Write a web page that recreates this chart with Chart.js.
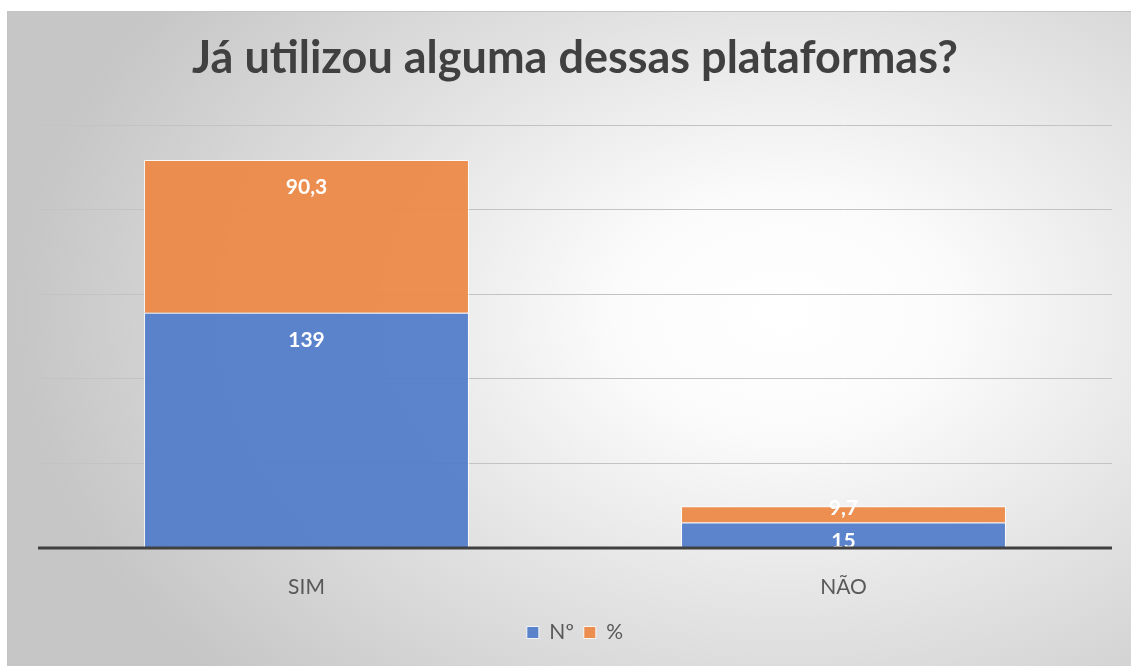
<!DOCTYPE html>
<html>
<head>
<meta charset="utf-8">
<script src="https://cdn.jsdelivr.net/npm/chart.js@4"></script>
<style>
  html, body { margin: 0; padding: 0; background: #fff; overflow: hidden; }
  #wrap {
    position: absolute; left: 7px; top: 11px; width: 1124px; height: 655px;
    border-top: 1px solid #c4c4c4; border-left: 1px solid #c4c4c4; box-sizing: border-box;
    background: radial-gradient(ellipse 68% 82% at 69% 46%, #ffffff 0%, #fbfbfb 22%, #e2e2e2 58%, #c6c6c6 100%);
  }
</style>
</head>
<body>
<div id="wrap"><canvas id="chart"></canvas></div>
<script>
  // Dados
  const categories = ['SIM', 'NÃO'];
  const seriesNames = ['Nº', '%'];
  const countValues = [139, 15];
  const percentValues = [90.3, 9.7];
  const yTicks = [0, 50, 100, 150, 200, 250];

  const fontFamily = 'Lato, "Open Sans", sans-serif';
  const fmt = v => v.toLocaleString('pt-BR');

  // Rótulos brancos dentro das barras
  const barLabels = {
    id: 'barLabels',
    afterDatasetsDraw(chart) {
      const c2d = chart.ctx;
      c2d.save();
      c2d.font = 'bold 21px ' + fontFamily;
      c2d.fillStyle = '#ffffff';
      c2d.textAlign = 'center';
      c2d.textBaseline = 'middle';
      categories.forEach((c, i) => {
        let limit = Infinity;
        chart.data.datasets.forEach((ds, d) => {
          const bar = chart.getDatasetMeta(d).data[i];
          const h = bar.base - bar.y;
          let y = bar.y + Math.min(27, h - 6);
          y = Math.min(y, limit);
          limit = y - 33;
          c2d.fillText(fmt(ds.data[i]), bar.x, y);
        });
      });
      c2d.restore();
    },
    // Linha do eixo, só dentro da área do gráfico
    afterDraw(chart) {
      const c2d = chart.ctx;
      const xs = chart.scales.x;
      const y0 = Math.round(chart.scales.y.getPixelForValue(0));
      c2d.save();
      c2d.clearRect(0, y0 - 4, xs.left, 8);
      c2d.clearRect(xs.right, y0 - 4, chart.width - xs.right, 8);
      c2d.fillStyle = '#404040';
      c2d.fillRect(xs.left, y0 - 1.5, xs.right - xs.left, 3);
      c2d.restore();
    }
  };

  const ctx = document.getElementById('chart').getContext('2d');
  const chart = new Chart(ctx, {
    type: 'bar',
    data: {
      labels: categories,
      datasets: [{
        label: seriesNames[0],
        data: countValues,
        backgroundColor: 'rgba(80, 124, 202, 0.93)',
        borderColor: 'rgba(255,255,255,0.85)',
        borderWidth: 1
      }, {
        label: seriesNames[1],
        data: percentValues,
        backgroundColor: 'rgba(237, 136, 68, 0.93)',
        borderColor: 'rgba(255,255,255,0.85)',
        borderWidth: 1
      }]
    },
    options: {
      responsive: true,
      maintainAspectRatio: false,
      animation: false,
      datasets: { bar: { categoryPercentage: 1, barPercentage: 0.605 } },
      layout: { padding: { left: 30, right: 19, top: 0, bottom: 13 } },
      plugins: {
        title: {
          display: true,
          text: 'Já utilizou alguma dessas plataformas?',
          color: '#404040',
          font: { family: fontFamily, size: 45, weight: 'bold' },
          padding: { top: 19, bottom: 40 }
        },
        legend: {
          position: 'bottom',
          labels: {
            boxWidth: 12,
            boxHeight: 12,
            padding: 10,
            color: '#595959',
            font: { family: fontFamily, size: 21 }
          }
        },
        tooltip: { enabled: false }
      },
      scales: {
        x: {
          stacked: true,
          grid: { display: false },
          border: { display: false },
          ticks: { color: '#595959', font: { family: fontFamily, size: 21 }, padding: 19 },
          afterFit: scale => { scale.height = 64; }
        },
        y: {
          stacked: true,
          min: yTicks[0],
          max: yTicks[yTicks.length - 1],
          afterBuildTicks: scale => { scale.ticks = yTicks.map(v => ({ value: v })); },
          ticks: { display: false },
          border: { display: false },
          grid: {
            drawTicks: false,
            color: c => c.tick.value === 0 ? 'rgba(0,0,0,0)' : '#c3c3c3'
          },
          afterFit: scale => { scale.width = 0; }
        }
      }
    },
    plugins: [barLabels]
  });
</script>
</body>
</html>
